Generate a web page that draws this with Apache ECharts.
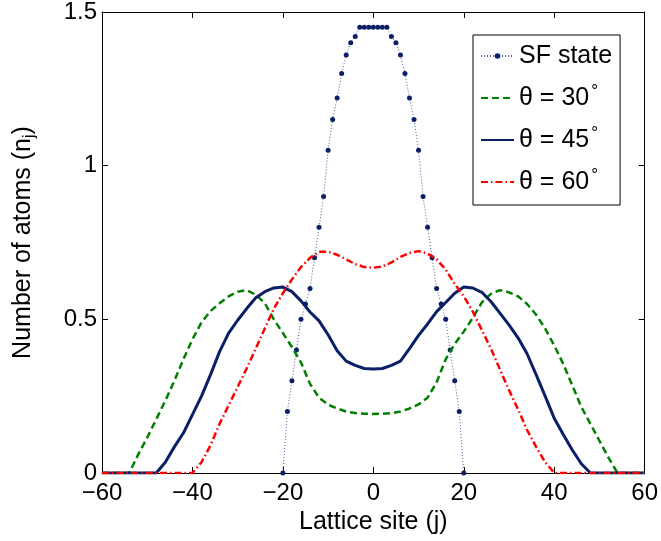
<!DOCTYPE html>
<html>
<head>
<meta charset="utf-8">
<script src="https://cdn.jsdelivr.net/npm/echarts@6/dist/echarts.min.js"></script>
<style>
  html, body { margin: 0; padding: 0; background: #fff; }
  #main { width: 661px; height: 541px; }
</style>
</head>
<body>
<div id="main"></div>
<script>
// lattice sites for the theta curves (step 2)
var sites = [-60, -58, -56, -54, -52, -50, -48, -46, -44, -42, -40, -38, -36, -34, -32, -30,
    -28, -26, -24, -22, -20, -18, -16, -14, -12, -10, -8, -6, -4, -2, 0,
    2, 4, 6, 8, 10, 12, 14, 16, 18, 20, 22, 24, 26, 28, 30,
    32, 34, 36, 38, 40, 42, 44, 46, 48, 50, 52, 54, 56, 58, 60];

// theta = 30 (green dashed)
var theta30 = [0, 0, 0, 0, 0.06, 0.115, 0.175, 0.235, 0.30, 0.37, 0.435, 0.49, 0.527, 0.552, 0.575, 0.59,
    0.595, 0.58, 0.553, 0.50, 0.455, 0.41, 0.36, 0.29, 0.245, 0.222, 0.21, 0.20, 0.195, 0.193, 0.192,
    0.193, 0.195, 0.20, 0.21, 0.223, 0.245, 0.295, 0.37, 0.42, 0.46, 0.505, 0.555, 0.583, 0.595, 0.588,
    0.575, 0.55, 0.515, 0.47, 0.415, 0.355, 0.285, 0.215, 0.16, 0.105, 0.05, 0, 0, 0, 0];

// theta = 45 (navy solid)
var theta45 = [0, 0, 0, 0, 0, 0, 0, 0.035, 0.085, 0.13, 0.19, 0.25, 0.32, 0.395, 0.455, 0.497,
    0.535, 0.57, 0.59, 0.602, 0.605, 0.59, 0.56, 0.524, 0.495, 0.45, 0.398, 0.364, 0.35, 0.34, 0.338,
    0.34, 0.35, 0.364, 0.405, 0.448, 0.485, 0.525, 0.555, 0.585, 0.605, 0.602, 0.588, 0.558, 0.52, 0.482,
    0.44, 0.388, 0.32, 0.25, 0.178, 0.125, 0.075, 0.03, 0, 0, 0, 0, 0, 0, 0];

// theta = 60 (red dash-dot)
var theta60 = [0, 0, 0, 0, 0, 0, 0, 0, 0, 0, 0, 0.035, 0.09, 0.16, 0.22, 0.28,
    0.34, 0.405, 0.47, 0.535, 0.585, 0.63, 0.67, 0.70, 0.72, 0.72, 0.71, 0.695, 0.68, 0.67, 0.668,
    0.672, 0.685, 0.703, 0.716, 0.722, 0.714, 0.695, 0.662, 0.615, 0.575, 0.525, 0.465, 0.405, 0.337, 0.27,
    0.207, 0.14, 0.085, 0.035, 0, 0, 0, 0, 0, 0, 0, 0, 0, 0, 0];

// SF state, every site
var sfSites = [-20, -19, -18, -17, -16, -15, -14, -13, -12, -11, -10, -9, -8, -7, -6, -5, -4, -3, -2, -1, 0,
    1, 2, 3, 4, 5, 6, 7, 8, 9, 10, 11, 12, 13, 14, 15, 16, 17, 18, 19, 20];
var sfState = [0, 0.2, 0.3, 0.4, 0.5, 0.55, 0.6, 0.7, 0.8, 0.9, 1.05, 1.15, 1.22, 1.3, 1.36, 1.4, 1.42, 1.45, 1.45, 1.45, 1.45,
    1.45, 1.45, 1.45, 1.42, 1.4, 1.36, 1.3, 1.22, 1.15, 1.05, 0.9, 0.8, 0.7, 0.6, 0.55, 0.5, 0.4, 0.3, 0.2, 0];

var xTicks = [-60, -40, -20, 0, 20, 40, 60];
var yTicks = [0, 0.5, 1, 1.5];

function pairs(xs, ys) {
    var out = [];
    for (var i = 0; i < xs.length; i++) out.push([xs[i], ys[i]]);
    return out;
}

var font = 'Arial, "Liberation Sans", Helvetica, sans-serif';
var navy = '#0b1f66';
var noMark = {opacity: 0};

var myChart = echarts.init(document.getElementById('main'));
myChart.setOption({
    animation: false,
    backgroundColor: '#fff',
    grid: {left: 102, right: 13, top: 10, bottom: 68},
    legend: {
        orient: 'vertical',
        left: 473,
        top: 35,
        padding: [6, 8, 8, 7],
        itemWidth: 33,
        itemHeight: 7,
        itemGap: 12,
        borderColor: '#000',
        borderWidth: 1,
        backgroundColor: '#fff',
        textStyle: {fontSize: 25, color: '#000', fontFamily: font, lineHeight: 30,
            rich: {
                t: {fontSize: 25, fontFamily: font, lineHeight: 30},
                d: {fontSize: 17, fontFamily: font, lineHeight: 1, verticalAlign: 'top', padding: [0, 0, 0, 2]}
            }},
        formatter: function (name) {
            if (name.indexOf('°') > -1) return '{t|' + name.replace('°', '') + '}{d|°}';
            return name;
        },
        data: [
            {name: 'SF state'},
            {name: 'θ = 30°', itemStyle: noMark},
            {name: 'θ = 45°', itemStyle: noMark},
            {name: 'θ = 60°', itemStyle: noMark}
        ]
    },
    xAxis: [{
        type: 'value', min: -60, max: 60, interval: 20,
        name: 'Lattice site (j)', nameLocation: 'middle', nameGap: 35,
        nameTextStyle: {fontSize: 25, color: '#000', fontFamily: font},
        axisLine: {onZero: false, lineStyle: {color: '#000', width: 1}},
        axisTick: {inside: true, length: 6, lineStyle: {color: '#000'}},
        axisLabel: {fontSize: 24, color: '#000', fontFamily: font, margin: 8,
            formatter: function (v) { return String(v).replace('-', '\u2212'); }},
        splitLine: {show: false}
    }, {
        type: 'value', min: -60, max: 60, interval: 20, position: 'top',
        axisLine: {onZero: false, lineStyle: {color: '#000', width: 1}},
        axisTick: {inside: true, length: 6, lineStyle: {color: '#000'}},
        axisLabel: {show: false},
        splitLine: {show: false}
    }],
    yAxis: [{
        type: 'value', min: 0, max: 1.5, interval: 0.5,
        name: '{a|Number of atoms (n}{s|j}{a|)}', nameLocation: 'middle', nameGap: 64,
        nameTextStyle: {fontSize: 25, color: '#000', fontFamily: font,
            rich: {
                a: {fontSize: 25, fontFamily: font, lineHeight: 30, verticalAlign: 'middle'},
                s: {fontSize: 16, fontFamily: font, lineHeight: 16, verticalAlign: 'bottom'}
            }},
        axisLine: {onZero: false, lineStyle: {color: '#000', width: 1}},
        axisTick: {inside: true, length: 6, lineStyle: {color: '#000'}},
        axisLabel: {fontSize: 24, color: '#000', fontFamily: font, margin: 5},
        splitLine: {show: false}
    }, {
        type: 'value', min: 0, max: 1.5, interval: 0.5, position: 'right',
        axisLine: {onZero: false, lineStyle: {color: '#000', width: 1}},
        axisTick: {inside: true, length: 6, lineStyle: {color: '#000'}},
        axisLabel: {show: false},
        splitLine: {show: false}
    }],
    series: [{
        name: 'SF state',
        type: 'line',
        data: pairs(sfSites, sfState),
        symbol: 'circle',
        symbolSize: 5,
        itemStyle: {color: navy},
        lineStyle: {color: '#4a5e9c', width: 1, type: [1, 2]},
        z: 2
    }, {
        name: 'θ = 30°',
        type: 'line',
        data: pairs(sites, theta30),
        symbol: 'none',
        itemStyle: {color: '#008000'},
        lineStyle: {color: '#008000', width: 2.5, type: [7, 4]},
        z: 3
    }, {
        name: 'θ = 45°',
        type: 'line',
        data: pairs(sites, theta45),
        symbol: 'none',
        itemStyle: {color: navy},
        lineStyle: {color: navy, width: 3},
        z: 4
    }, {
        name: 'θ = 60°',
        type: 'line',
        data: pairs(sites, theta60),
        symbol: 'none',
        itemStyle: {color: '#ff0000'},
        lineStyle: {color: '#ff0000', width: 2.5, type: [7, 3, 1.5, 3]},
        z: 5
    }]
});
</script>
</body>
</html>
